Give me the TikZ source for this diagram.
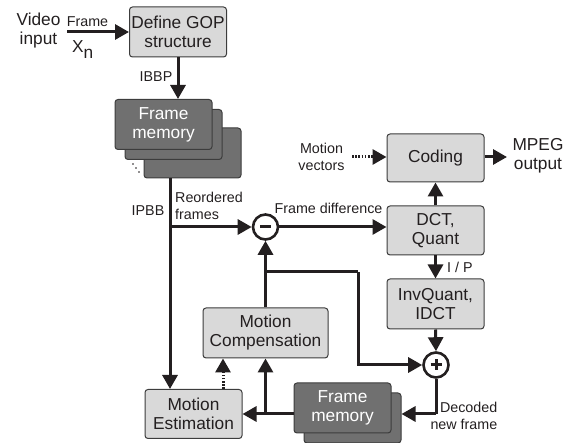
\documentclass[tikz,border=0pt]{standalone}
\usepackage{fontspec}
\setmainfont{Liberation Sans}
\usetikzlibrary{arrows.meta,calc}
\definecolor{boxlight}{HTML}{D9D9D9}
\definecolor{boxdark}{HTML}{707070}
\definecolor{boxedge}{HTML}{3C3C3C}
\definecolor{ink}{HTML}{231F20}
\newcommand\mainsz{\fontsize{17.3}{19}\selectfont}
\newcommand\smallsz{\fontsize{14.3}{16.5}\selectfont}

\begin{document}
\begin{tikzpicture}[x=1pt,y=-1pt,
  lbox/.style={draw=boxedge,line width=1pt,fill=boxlight,rounded corners=3pt,
    minimum width=97pt,minimum height=50pt,align=center,inner sep=0pt,font=\mainsz,text=ink},
  dbox/.style={draw=boxedge,line width=1pt,fill=boxdark,rounded corners=3pt,
    minimum width=97pt,minimum height=50pt,align=center,inner sep=0pt,font=\mainsz,text=white},
  conn/.style={draw=ink,line width=3pt,-{Triangle[length=14pt,width=15pt]}},
  plain/.style={draw=ink,line width=3pt},
  dotconn/.style={draw=ink,line width=3pt,dash pattern=on 1.6pt off 1.6pt,
    -{Triangle[length=14pt,width=15pt]}},
  junc/.style={circle,draw=ink,line width=2.6pt,fill=white,minimum size=25pt,inner sep=0pt},
  lab/.style={font=\smallsz,text=ink,inner sep=0pt,align=center},
  biglab/.style={font=\mainsz,text=ink,inner sep=0pt,align=center}]

\useasboundingbox (0,0) rectangle (574,443);

% ---- boxes ----
\node[lbox] (gop) at (178,32) {Define GOP\\structure};

\node[dbox,text=boxdark] (fm1c) at (192.5,153) {};
\node[dbox,text=boxdark] (fm1b) at (173.5,134.5) {};
\node[dbox] (fm1a) at (163.5,124.5) {Frame\\memory};
\foreach \p in {0,1,2}
  \fill[ink] (133+3*\p,164+4*\p) circle (0.8pt);

\node[lbox,minimum height=48pt] (coding) at (435.5,158) {Coding};
\node[lbox,minimum height=49pt] (dct) at (435.5,230.5) {DCT,\\Quant};
\node[lbox] (inv) at (435.5,304) {InvQuant,\\IDCT};
\node[lbox,minimum width=125pt] (mc) at (265.5,333) {Motion\\Compensation};
\node[lbox,minimum height=49pt] (me) at (193.5,414) {Motion\\Estimation};

\node[dbox,text=boxdark] (fm2b) at (352.5,418) {};
\node[dbox] (fm2a) at (342.5,408) {Frame\\memory};

\node[junc] (minus) at (265.5,227) {};
\draw[ink,line width=3pt] ($(minus)+(-5.5,0)$) -- ($(minus)+(5.5,0)$);
\node[junc] (plus) at (436,365) {};
\draw[ink,line width=3pt] ($(plus)+(-5.5,0)$) -- ($(plus)+(5.5,0)$)
  ($(plus)+(0,-5.5)$) -- ($(plus)+(0,5.5)$);

% ---- free ends and branch points ----
\coordinate (vin) at (67,32);
\coordinate (split) at (170,227);
\coordinate (mvin) at (352,157);
\coordinate (mpeg) at (507,157);
\coordinate (fb) at (265.5,272);
\coordinate (fbc) at (358,272);
\coordinate (dec) at (436,414);
\coordinate (mebr) at (265.5,414);

% ---- connectors ----
\draw[conn] (vin) -- (gop.west |- vin);
\draw[conn] (gop.south) -- (gop.south |- fm1a.north);
\draw[conn] (fm1c.south -| split) -- (me.north -| split);
\draw[conn] (split) -- (minus.west);
\draw[conn] (minus.east) -- (dct.west |- minus.east);
\draw[conn] (dct.north) -- (coding.south);
\draw[dotconn] (mvin) -- (coding.west |- mvin);
\draw[conn] (coding.east |- mpeg) -- (mpeg);
\draw[conn] (dct.south) -- (inv.north);
\draw[conn] (inv.south) -- (plus.north);
\draw[plain] (plus.south) -- (dec);
\draw[conn] (dec) -- (fm2b.east |- dec);
\draw[conn] (fm2a.west |- mebr) -- (me.east |- mebr);
\draw[conn] (mebr) -- (mc.south);
\draw[dotconn] (me.north -| 223,0) -- (mc.south -| 223,0);
\draw[conn] (mc.north) -- (minus.south);
\draw[plain] (fb) -- (fbc);
\draw[conn] (fbc) |- (plus.west);

% ---- labels ----
\node[biglab] (lvideo) at (38.5,31) {Video\\input};
\node[lab] (lframe) at (87.5,22) {Frame};
\node[biglab,anchor=west] (lxn) at (72,50) {X\raisebox{-0.35em}{n}};
\node[lab] (libbp) at (156,77) {IBBP};
\node[lab] (lipbb) at (148,211) {IPBB};
\node[lab,align=left,anchor=west] (lreord) at (175,206) {Reordered\\frames};
\node[lab] (ldiff) at (328.5,208) {Frame difference};
\node[lab] (lmv) at (321.5,157) {Motion\\vectors};
\node[biglab] (lmpeg) at (538,156) {MPEG\\output};
\node[lab,anchor=west] (lip) at (447,267) {I / P};
\node[lab,align=right,anchor=east] (ldec) at (497.5,416) {Decoded\\new frame};

\end{tikzpicture}
\end{document}
